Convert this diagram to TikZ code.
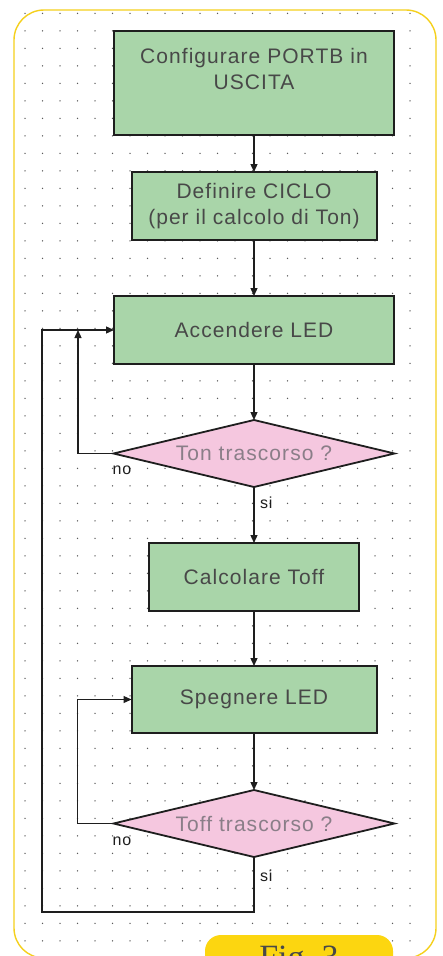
\documentclass[tikz,border=0pt]{standalone}
\usepackage{fontspec}
\usepackage{tikz}
\usetikzlibrary{arrows.meta,positioning,shapes.geometric}
\newfontfamily\flowfont{Liberation Sans}[LetterSpace=5.0]
\newfontfamily\figfont{Liberation Serif}
\definecolor{Frame}{HTML}{F5D01C}
\definecolor{Tab}{HTML}{FCD610}
\definecolor{Leaf}{HTML}{A9D5A9}
\definecolor{Rose}{HTML}{F5C7DF}
\definecolor{Ink}{HTML}{1E1E1E}
\definecolor{Slate}{HTML}{484848}
\definecolor{Mauve}{HTML}{8A7E88}
\definecolor{Speck}{HTML}{5A5A5A}

\begin{document}
\begin{tikzpicture}[
  x=1pt,y=-1pt,
  node distance=56pt,
  proc/.style={draw=Ink,fill=Leaf,line width=2pt,outer sep=0pt,minimum height=68pt,align=center,text=Slate,font=\flowfont\fontsize{21}{26}\selectfont},
  test/.style={diamond,draw=Ink,fill=Rose,line width=1.8pt,outer sep=0pt,aspect=4.2,minimum width=281pt,minimum height=67pt,inner sep=0pt,text=Mauve,font=\flowfont\fontsize{21}{26}\selectfont},
  lbl/.style={inner sep=0pt,font=\flowfont\fontsize{16}{18}\selectfont,text=Ink},
  arrow/.style={-{Triangle[length=8pt,width=7pt]},line width=1.3pt,draw=Ink}
]
\useasboundingbox[fill=white] (0,0) rectangle (442,956);
% dotted sheet
\foreach \i in {0,...,22}
  \foreach \j in {0,...,53}
    \fill[Speck] (25+17.5*\i,13.3+17.5*\j) circle[radius=0.75pt];
\draw[Frame,line width=1.4pt,rounded corners=30pt] (14,10) rectangle (436,958);
\fill[Tab,rounded corners=16pt] (205,935) rectangle (393,1000);
\node[font=\figfont\fontsize{34}{40}\selectfont,text=Slate,inner sep=0pt,anchor=north] (fig) at (299,946) {Fig.~3};

\node[proc,minimum width=280pt,minimum height=104pt] (cfg) at (254,83) {Configurare PORTB in\\USCITA\\[-6pt]\strut};
\node[proc,minimum width=245pt,below=37pt of cfg] (ciclo) {Definire CICLO\\(per il calcolo di Ton)};
\node[proc,minimum width=280pt,below=of ciclo] (on) {Accendere LED};
\node[test,below=of on] (ton) {Ton trascorso ?};
\node[proc,minimum width=210pt,below=of ton] (calc) {Calcolare Toff};
\node[proc,minimum width=245pt,minimum height=67pt,below=55pt of calc] (off) {Spegnere LED};
\node[test,below=57pt of off] (toff) {Toff trascorso ?};

\coordinate[left=36pt of on.west] (j1);
\coordinate[left=72pt of on.west] (j0);
\coordinate[below=55pt of toff.south] (sink);

\draw[arrow] (cfg) -- (ciclo);
\draw[arrow] (ciclo) -- (on);
\draw[arrow] (on) -- (ton);
\draw[arrow] (ton) -- (calc);
\draw[arrow] (calc) -- (off);
\draw[arrow] (off) -- (toff);
\draw[arrow] (ton.west) -| (j1);
\draw[arrow] (toff.west) -- ++(-36,0) |- (off.west);
\draw[arrow] (toff.south) -- (sink) -| (j0) -- (on.west);

\node[lbl,anchor=base west] (no1) at ([xshift=-1pt,yshift=-21pt]ton.west) {no};
\node[lbl,anchor=base west] (si1) at ([xshift=6pt,yshift=-21pt]ton.south) {si};
\node[lbl,anchor=base west] (no2) at ([xshift=-1pt,yshift=-22pt]toff.west) {no};
\node[lbl,anchor=base west] (si2) at ([xshift=6pt,yshift=-24pt]toff.south) {si};
\end{tikzpicture}
\end{document}
